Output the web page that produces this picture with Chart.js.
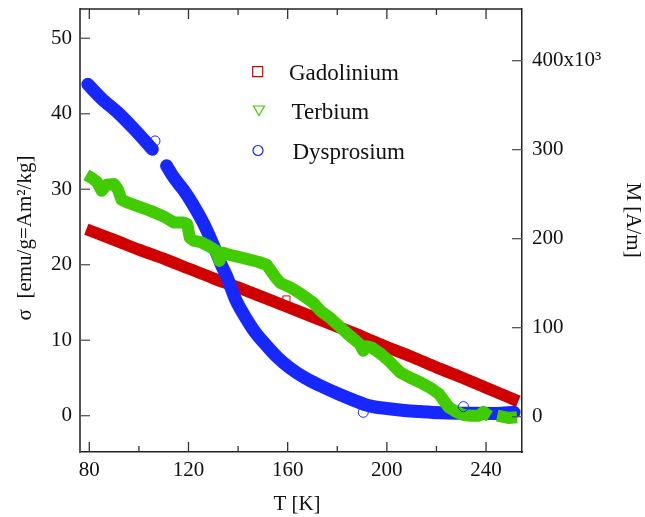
<!DOCTYPE html>
<html>
<head>
<meta charset="utf-8">
<script src="https://cdn.jsdelivr.net/npm/chart.js@4.4.0/dist/chart.umd.min.js"></script>
<style>
  body { margin: 0; background: #fff; }
  #wrap { width: 645px; height: 517px; }
</style>
</head>
<body>
<div id="wrap"><canvas id="magChart" width="645" height="517"></canvas></div>
<script>
// Valores: temperatura T [K] e sigma [emu/g]
const gdT     = [78.8, 90, 100, 110, 120, 130, 140, 150, 160, 170, 180, 190, 200, 210, 220, 230, 240, 253];
const gdSigma = [24.7, 23.3, 22.0, 20.8, 19.5, 18.2, 17.0, 15.7, 14.4, 13.1, 11.8, 10.5, 9.1, 7.8, 6.4, 5.1, 3.7, 1.9];

const tbT     = [78.8, 81, 83, 85, 87, 90, 91.5, 93, 95, 100, 105, 110, 114, 118, 119.5, 120.5, 122, 125, 128, 131, 132.5, 133.5,
                 138, 143, 148, 151.5, 153, 155.4, 157, 161, 165, 170.5, 173.2, 177, 181.3, 185, 189, 190.5, 192, 194, 197.5,
                 201, 205.5, 209, 213.6, 218, 221, 223, 225, 228, 231, 234, 237, 239, 240.5, 241.5, 242.5, 244.5, 249, 252.5];
const tbSigma = [31.9, 31.5, 31.0, 29.8, 30.6, 30.7, 30.0, 28.6, 28.3, 27.7, 27.1, 26.4, 25.6, 25.6, 25.4, 23.6, 23.2, 23.0, 22.5, 21.9, 20.5, 21.6,
                 21.2, 20.8, 20.4, 20.0, 19.3, 18.2, 17.6, 17.0, 16.2, 14.9, 13.9, 13.0, 11.7, 10.6, 9.5, 8.6, 9.2, 9.0, 8.2,
                 7.2, 5.7, 5.1, 4.4, 3.6, 2.9, 2.0, 1.1, 0.5, 0.1, 0.0, 0.0, 0.5, 0.1, -0.1, null, 0.0, -0.3, -0.2];

const dyT     = [79.4, 85, 91.7, 98, 103, 105.4, 108, 111.2, 114, 118, 121.4, 126, 130.8, 133.5, 135.5, 139, 143.6, 147, 151.7,
                 156, 161, 167, 173, 181, 187, 193, 200, 207, 213.6, 222, 234, 244, 251.3];
const dySigma = [43.9, 42.0, 40.1, 38.0, 36.2, 35.3, null, 33.1, 31.6, 29.9, 28.2, 25.5, 22.0, 19.8, 18.4, 15.4, 12.7, 11.0, 9.2,
                 7.7, 6.3, 5.0, 4.0, 2.8, 2.0, 1.3, 0.95, 0.7, 0.55, 0.4, 0.32, 0.3, 0.45];

// marcadores soltos (pontos isolados fora da faixa)
const gdStrayT = [159.5];
const gdStraySigma = [15.4];
const tbStrayT = [92.4, 240.6];
const tbStraySigma = [29.0, 0.3];
const dyStrayT = [106.5, 190.5, 230.9];
const dyStraySigma = [36.4, 0.45, 1.2];

const xTicks = [80, 120, 160, 200, 240];
const xMinorTicks = [100, 140, 180, 220];
const sigmaTicks = [0, 10, 20, 30, 40, 50];
const mTicks = [0, 100000, 200000, 300000, 400000];
const mTickLabels = ['0', '100', '200', '300', '400x10³'];

const seriesNames = ['Gadolinium', 'Terbium', 'Dysprosium'];
const corGd = '#d00000';
const corTb = '#40cc00';
const corDy = '#1628ff';

const fonte = "'Liberation Serif', 'Times New Roman', serif";

function pares(xs, ys) {
    return xs.map((t, i) => ({ x: t, y: ys[i] }));
}

// sem padding extra para os rótulos, a área do gráfico fica fixa
function semPadding(s) {
    s.paddingTop = 0;
    s.paddingBottom = 0;
    s.paddingLeft = 0;
    s.paddingRight = 0;
}

// ticks internos, moldura superior, títulos e legenda
const molduraPlugin = {
    id: 'moldura',
    afterDraw(chart) {
        const { ctx, chartArea: a, scales } = chart;
        const sx = scales.x, sy = scales.y, sy2 = scales.y2;
        ctx.save();
        function seg(x1, y1, x2, y2) {
            ctx.beginPath();
            ctx.moveTo(x1, y1);
            ctx.lineTo(x2, y2);
            ctx.stroke();
        }
        ctx.strokeStyle = '#222';
        ctx.lineWidth = 1.5;
        seg(a.left, a.top, a.right, a.top);

        ctx.lineWidth = 1.3;
        ctx.strokeStyle = '#333';
        xTicks.forEach(v => {
            const px = sx.getPixelForValue(v);
            seg(px, a.bottom, px, a.bottom - 10);
            seg(px, a.top, px, a.top + 10);
        });
        xMinorTicks.forEach(v => {
            const px = sx.getPixelForValue(v);
            seg(px, a.bottom, px, a.bottom - 6);
            seg(px, a.top, px, a.top + 6);
        });
        ctx.strokeStyle = '#555';
        sigmaTicks.forEach(v => {
            const py = sy.getPixelForValue(v);
            seg(a.left, py, a.left + 10, py);
        });
        mTicks.forEach(v => {
            const py = sy2.getPixelForValue(v);
            seg(a.right, py, a.right - 10, py);
        });

        // títulos dos eixos
        ctx.fillStyle = '#111';
        ctx.font = '21px ' + fonte;
        ctx.textAlign = 'center';
        ctx.textBaseline = 'alphabetic';
        ctx.fillText('T [K]', 297, 510);

        ctx.save();
        ctx.translate(31, 238);
        ctx.rotate(-Math.PI / 2);
        ctx.fillText('σ  [emu/g=Am²/kg]', 0, 0);
        ctx.restore();

        ctx.save();
        ctx.translate(627, 220);
        ctx.rotate(Math.PI / 2);
        ctx.fillText('M [A/m]', 0, 0);
        ctx.restore();

        // legenda
        ctx.font = '23px ' + fonte;
        ctx.textAlign = 'left';
        ctx.lineWidth = 1.2;
        const leg = [
            { cor: corGd, mx: 257.7, my: 71.7, tx: 289, ty: 80, forma: 'rect' },
            { cor: corTb, mx: 259, my: 110.5, tx: 291.5, ty: 118.5, forma: 'tri' },
            { cor: corDy, mx: 258, my: 150.5, tx: 292.5, ty: 158.5, forma: 'circ' }
        ];
        leg.forEach((l, i) => {
            ctx.strokeStyle = l.cor;
            ctx.beginPath();
            if (l.forma === 'rect') {
                ctx.rect(l.mx - 5, l.my - 5, 10, 10);
            } else if (l.forma === 'tri') {
                ctx.moveTo(l.mx - 5.5, l.my - 4.5);
                ctx.lineTo(l.mx + 5.5, l.my - 4.5);
                ctx.lineTo(l.mx, l.my + 5);
                ctx.closePath();
            } else {
                ctx.arc(l.mx, l.my, 5, 0, Math.PI * 2);
            }
            ctx.stroke();
            ctx.fillStyle = '#111';
            ctx.fillText(seriesNames[i], l.tx, l.ty);
        });
        ctx.restore();
    }
};

const ctx = document.getElementById('magChart').getContext('2d');
new Chart(ctx, {
    type: 'scatter',
    data: {
        datasets: [
            {
                label: seriesNames[1],
                data: pares(tbT, tbSigma),
                showLine: true,
                borderColor: corTb,
                borderWidth: 12,
                borderCapStyle: 'butt',
                borderJoinStyle: 'round',
                pointRadius: 0,
                spanGaps: false,
                order: 1
            },
            {
                label: seriesNames[2],
                data: pares(dyT, dySigma),
                showLine: true,
                borderColor: corDy,
                borderWidth: 13,
                borderCapStyle: 'round',
                borderJoinStyle: 'round',
                cubicInterpolationMode: 'monotone',
                pointRadius: 0,
                spanGaps: false,
                order: 2
            },
            {
                label: seriesNames[0],
                data: pares(gdT, gdSigma),
                showLine: true,
                borderColor: corGd,
                borderWidth: 12,
                borderCapStyle: 'butt',
                borderJoinStyle: 'round',
                cubicInterpolationMode: 'monotone',
                pointRadius: 0,
                order: 3
            },
            {
                label: 'Gd soltos',
                data: pares(gdStrayT, gdStraySigma),
                pointStyle: 'rect',
                pointRadius: 5,
                borderColor: corGd,
                backgroundColor: 'rgba(0,0,0,0)',
                borderWidth: 1,
                order: 0
            },
            {
                label: 'Tb soltos',
                data: pares(tbStrayT, tbStraySigma),
                pointStyle: 'triangle',
                rotation: 180,
                pointRadius: 5,
                borderColor: corTb,
                backgroundColor: 'rgba(0,0,0,0)',
                borderWidth: 1,
                order: 0
            },
            {
                label: 'Dy soltos',
                data: pares(dyStrayT, dyStraySigma),
                pointStyle: 'circle',
                pointRadius: 5,
                borderColor: corDy,
                backgroundColor: 'rgba(0,0,0,0)',
                borderWidth: 1,
                order: 0
            }
        ]
    },
    options: {
        responsive: false,
        animation: false,
        layout: { padding: { top: 9, left: 0, right: 0, bottom: 0 } },
        plugins: {
            legend: { display: false },
            tooltip: { enabled: false }
        },
        scales: {
            x: {
                type: 'linear',
                position: 'bottom',
                min: 76.25,
                max: 254.5,
                afterBuildTicks: s => { s.ticks = xTicks.map(v => ({ value: v })); },
                afterFit: s => { s.height = 65; semPadding(s); },
                grid: { display: false, drawTicks: false },
                border: { display: true, color: '#222', width: 1.5 },
                ticks: {
                    padding: 6,
                    color: '#111',
                    font: { family: fonte, size: 21 },
                    maxRotation: 0
                }
            },
            y: {
                type: 'linear',
                position: 'left',
                min: -4.81,
                max: 53.88,
                afterBuildTicks: s => { s.ticks = sigmaTicks.map(v => ({ value: v })); },
                afterFit: s => { s.width = 80; semPadding(s); },
                grid: { display: false, drawTicks: false },
                border: { display: true, color: '#555', width: 2 },
                ticks: {
                    padding: 8,
                    color: '#111',
                    font: { family: fonte, size: 21 }
                }
            },
            y2: {
                type: 'linear',
                position: 'right',
                min: -39700,
                max: 458100,
                afterBuildTicks: s => { s.ticks = mTicks.map(v => ({ value: v })); },
                afterFit: s => { s.width = 123; semPadding(s); },
                grid: { display: false, drawTicks: false },
                border: { display: true, color: '#222', width: 1.5 },
                ticks: {
                    padding: 10,
                    color: '#111',
                    font: { family: fonte, size: 21 },
                    callback: (v) => mTickLabels[mTicks.indexOf(v)]
                }
            }
        }
    },
    plugins: [molduraPlugin]
});
</script>
</body>
</html>
